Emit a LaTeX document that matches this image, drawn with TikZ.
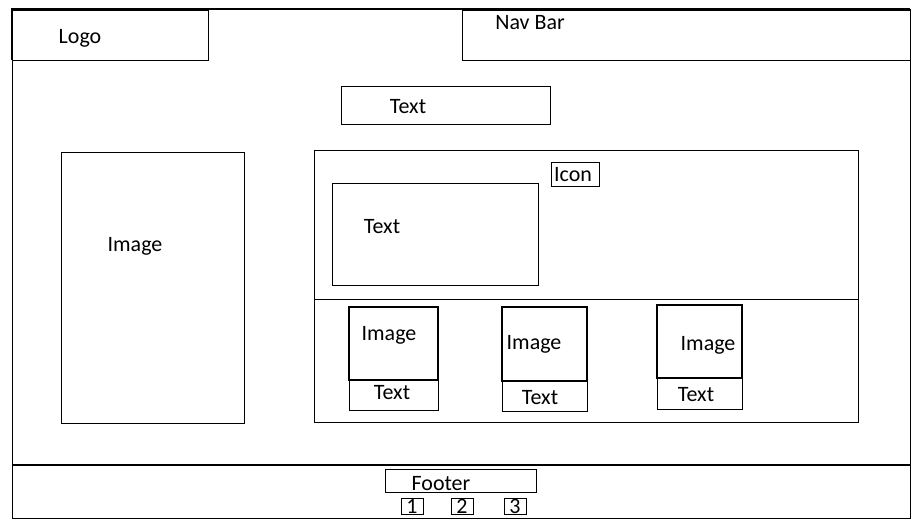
\documentclass[tikz,border=0pt]{standalone}
\usepackage{fontspec}
\setmainfont{Carlito}
\usepackage{tikz}

\begin{document}
\begin{tikzpicture}[x=0.02cm, y=-0.02cm,
  box/.style={draw=black, line width=0.55pt},
  heavy/.style={draw=black, line width=1.3pt},
  lbl/.style={font=\fontsize{12.5}{14}\selectfont, text=black, inner sep=0pt, yshift=-0.04cm},
  numbox/.style={draw=black, line width=0.5pt, font=\fontsize{12.5}{14}\selectfont,
                 minimum width=0.44cm, minimum height=0.32cm, inner sep=0pt}]

\useasboundingbox (0,0) rectangle (918,523);

% page frame
\draw[box] (12,9) rectangle (910,518);
\draw[heavy] (11,9) -- (910,9); \draw[heavy] (12,9) -- (12,60);
\draw[heavy] (12,465) -- (910,465);

% header
\draw[box] (12,10) rectangle (208,60); \node[lbl] (logo) at (80,36) {Logo};
\draw[box] (462,10) rectangle (910,60); \node[lbl] (navbar) at (530,21) {Nav Bar};
\draw[box] (341,86) rectangle (550,124); \node[lbl] (title) at (408,105) {Text};

% side image
\draw[box] (61,152) rectangle (244,423); \node[lbl] (sideimg) at (135,244) {Image};

% content panel
\draw[box] (314,150) rectangle (858,422); \draw[box] (314,299) -- (858,299);
\draw[box] (551,162) rectangle (599,186); \node[lbl] (icon) at (573,173) {Icon};
\draw[box] (332,183) rectangle (538,285); \node[lbl] (intro) at (382,225) {Text};

% cards
\draw[heavy, line width=1pt] (349,307) rectangle (438,380); \draw[box] (349,380) rectangle (438,410);
\node[lbl] (img1) at (389,333) {Image}; \node[lbl] (txt1) at (392,391) {Text};
\draw[heavy, line width=1pt] (502,307) rectangle (587,381); \draw[box] (502,381) rectangle (587,411);
\node[lbl] (img2) at (534,342) {Image}; \node[lbl] (txt2) at (540,396) {Text};
\draw[heavy, line width=1pt] (657,305) rectangle (742,378); \draw[box] (657,378) rectangle (742,409);
\node[lbl] (img3) at (708,343) {Image}; \node[lbl] (txt3) at (696,393) {Text};

% footer
\draw[box] (385,469) rectangle (536,492); \node[lbl] (footer) at (441,482) {Footer};
\node[numbox] (p1) at (412,506) {1};
\node[numbox] (p2) at (462,506) {2};
\node[numbox] (p3) at (515,506) {3};

\end{tikzpicture}
\end{document}
